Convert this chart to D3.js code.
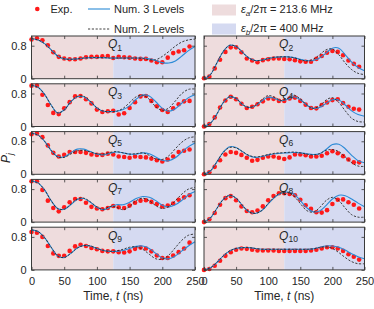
<!DOCTYPE html>
<html>
<head>
<meta charset="utf-8">
<script src="https://cdn.jsdelivr.net/npm/d3@7"></script>
<style>
  html, body { margin: 0; padding: 0; background: #fff; }
  svg { display: block; font-family: 'Liberation Sans', Arial, Helvetica, sans-serif; }
</style>
</head>
<body>
<svg id="chart" width="374" height="309"></svg>
<script>
// time grids (ns)
var tExp = [0, 8.33, 16.67, 25, 33.33, 41.67, 50, 58.33, 66.67, 75, 83.33, 91.67, 100, 108.33, 116.67,
  125, 133.33, 141.67, 150, 158.33, 166.67, 175, 183.33, 191.67, 200, 208.33, 216.67, 225, 233.33, 241.67];
var tSim = [0, 10, 20, 30, 40, 50, 60, 70, 80, 90, 100, 110, 120, 130, 140, 150, 160, 170, 180, 190, 200,
  210, 220, 230, 240, 250];

var q1Exp = [0.95, 0.98, 0.93, 0.81, 0.64, 0.53, 0.49, 0.47, 0.47, 0.49, 0.52, 0.53, 0.53, 0.54, 0.55,
  0.50, 0.53, 0.52, 0.51, 0.49, 0.48, 0.48, 0.44, 0.40, 0.40, 0.51, 0.62, 0.66, 0.69, 0.78];
var q1Three = [0.97, 0.94, 0.85, 0.70, 0.55, 0.48, 0.47, 0.48, 0.50, 0.51, 0.51, 0.51, 0.50, 0.50, 0.50,
  0.50, 0.50, 0.50, 0.48, 0.44, 0.39, 0.38, 0.43, 0.55, 0.68, 0.78];
var q1Two = [0.97, 0.94, 0.85, 0.70, 0.55, 0.48, 0.47, 0.48, 0.50, 0.51, 0.51, 0.51, 0.50, 0.50, 0.50,
  0.50, 0.50, 0.49, 0.46, 0.46, 0.54, 0.66, 0.79, 0.89, 0.94, 0.96];

var q2Exp = [0.01, 0.05, 0.25, 0.46, 0.65, 0.76, 0.76, 0.64, 0.49, 0.44, 0.40, 0.45, 0.47, 0.49, 0.49,
  0.48, 0.47, 0.45, 0.42, 0.41, 0.41, 0.48, 0.55, 0.63, 0.67, 0.65, 0.57, 0.44, 0.36, 0.29];
var q2Three = [0.0, 0.10, 0.38, 0.66, 0.81, 0.78, 0.64, 0.50, 0.44, 0.45, 0.49, 0.52, 0.53, 0.53, 0.51,
  0.47, 0.44, 0.44, 0.50, 0.62, 0.74, 0.74, 0.58, 0.40, 0.27, 0.19];
var q2Two = [0.0, 0.10, 0.38, 0.66, 0.81, 0.78, 0.64, 0.50, 0.44, 0.45, 0.49, 0.52, 0.53, 0.53, 0.51,
  0.46, 0.43, 0.47, 0.58, 0.70, 0.72, 0.58, 0.38, 0.22, 0.13, 0.10];

var q3Exp = [0.99, 0.99, 0.77, 0.52, 0.33, 0.30, 0.44, 0.59, 0.73, 0.74, 0.66, 0.56, 0.41, 0.35, 0.37,
  0.38, 0.29, 0.32, 0.45, 0.59, 0.73, 0.74, 0.62, 0.49, 0.40, 0.35, 0.44, 0.54, 0.61, 0.62];
var q3Three = [1.0, 0.95, 0.78, 0.52, 0.33, 0.40, 0.60, 0.72, 0.72, 0.60, 0.45, 0.37, 0.36, 0.37, 0.41,
  0.50, 0.66, 0.76, 0.74, 0.60, 0.44, 0.37, 0.43, 0.57, 0.70, 0.77];
var q3Two = [1.0, 0.95, 0.78, 0.52, 0.33, 0.40, 0.60, 0.73, 0.73, 0.61, 0.45, 0.37, 0.36, 0.37, 0.44,
  0.58, 0.72, 0.76, 0.66, 0.48, 0.39, 0.45, 0.62, 0.80, 0.90, 0.91];

var q4Exp = [0.0, 0.06, 0.22, 0.46, 0.63, 0.72, 0.66, 0.55, 0.45, 0.48, 0.54, 0.61, 0.68, 0.67, 0.62,
  0.62, 0.68, 0.70, 0.62, 0.53, 0.45, 0.44, 0.52, 0.58, 0.64, 0.66, 0.57, 0.48, 0.43, 0.41];
var q4Three = [0.0, 0.08, 0.30, 0.58, 0.72, 0.68, 0.53, 0.46, 0.50, 0.62, 0.71, 0.68, 0.62, 0.66, 0.72,
  0.65, 0.52, 0.44, 0.46, 0.56, 0.65, 0.64, 0.52, 0.38, 0.29, 0.25];
var q4Two = [0.0, 0.08, 0.30, 0.58, 0.72, 0.68, 0.53, 0.46, 0.51, 0.65, 0.75, 0.71, 0.63, 0.68, 0.76,
  0.67, 0.52, 0.44, 0.50, 0.64, 0.70, 0.58, 0.38, 0.20, 0.12, 0.11];

var q5Exp = [0.97, 0.99, 0.90, 0.70, 0.52, 0.43, 0.47, 0.54, 0.54, 0.54, 0.52, 0.48, 0.47, 0.47, 0.50,
  0.48, 0.43, 0.42, 0.40, 0.43, 0.42, 0.41, 0.38, 0.34, 0.31, 0.36, 0.43, 0.54, 0.57, 0.60];
var q5Three = [1.0, 0.95, 0.80, 0.58, 0.43, 0.42, 0.52, 0.61, 0.61, 0.55, 0.49, 0.47, 0.51, 0.54, 0.52,
  0.49, 0.49, 0.52, 0.50, 0.42, 0.34, 0.33, 0.40, 0.54, 0.67, 0.76];
var q5Two = [1.0, 0.95, 0.80, 0.58, 0.42, 0.41, 0.49, 0.57, 0.58, 0.54, 0.50, 0.49, 0.53, 0.55, 0.52,
  0.49, 0.50, 0.52, 0.46, 0.37, 0.36, 0.45, 0.62, 0.78, 0.88, 0.91];

var q6Exp = [0.0, 0.05, 0.18, 0.34, 0.48, 0.54, 0.52, 0.47, 0.40, 0.33, 0.35, 0.40, 0.43, 0.43, 0.40,
  0.37, 0.41, 0.48, 0.48, 0.46, 0.43, 0.43, 0.45, 0.51, 0.56, 0.51, 0.44, 0.36, 0.29, 0.29];
var q6Three = [0.0, 0.08, 0.30, 0.54, 0.67, 0.65, 0.55, 0.45, 0.41, 0.43, 0.47, 0.50, 0.51, 0.52, 0.53,
  0.52, 0.50, 0.48, 0.50, 0.60, 0.72, 0.73, 0.62, 0.46, 0.33, 0.28];
var q6Two = [0.0, 0.08, 0.30, 0.53, 0.65, 0.64, 0.55, 0.46, 0.42, 0.44, 0.48, 0.51, 0.52, 0.53, 0.54,
  0.52, 0.49, 0.47, 0.50, 0.58, 0.60, 0.55, 0.42, 0.28, 0.20, 0.19];

var q7Exp = [0.99, 0.99, 0.78, 0.52, 0.34, 0.26, 0.36, 0.48, 0.56, 0.56, 0.47, 0.37, 0.33, 0.31, 0.34,
  0.39, 0.36, 0.34, 0.40, 0.47, 0.52, 0.53, 0.49, 0.44, 0.38, 0.40, 0.45, 0.54, 0.60, 0.65];
var q7Three = [1.0, 0.95, 0.78, 0.52, 0.33, 0.31, 0.42, 0.55, 0.57, 0.48, 0.36, 0.30, 0.36, 0.42, 0.42,
  0.48, 0.57, 0.62, 0.60, 0.52, 0.41, 0.37, 0.42, 0.53, 0.66, 0.74];
var q7Two = [1.0, 0.95, 0.78, 0.52, 0.33, 0.31, 0.43, 0.56, 0.58, 0.49, 0.37, 0.31, 0.38, 0.36, 0.30,
  0.38, 0.52, 0.58, 0.52, 0.40, 0.33, 0.38, 0.52, 0.68, 0.80, 0.84];

var q8Exp = [0.0, 0.07, 0.22, 0.42, 0.58, 0.63, 0.53, 0.38, 0.27, 0.24, 0.28, 0.38, 0.53, 0.63, 0.70,
  0.70, 0.68, 0.65, 0.54, 0.41, 0.32, 0.24, 0.23, 0.29, 0.44, 0.54, 0.55, 0.48, 0.42, 0.33];
var q8Three = [0.0, 0.10, 0.33, 0.55, 0.65, 0.58, 0.40, 0.25, 0.21, 0.28, 0.44, 0.60, 0.70, 0.73, 0.68,
  0.52, 0.35, 0.25, 0.27, 0.40, 0.56, 0.65, 0.64, 0.56, 0.46, 0.37];
var q8Two = [0.0, 0.10, 0.33, 0.55, 0.65, 0.58, 0.40, 0.25, 0.21, 0.28, 0.45, 0.61, 0.71, 0.72, 0.63,
  0.45, 0.28, 0.24, 0.35, 0.52, 0.60, 0.52, 0.34, 0.18, 0.12, 0.12];

var q9Exp = [0.92, 0.90, 0.80, 0.58, 0.40, 0.34, 0.34, 0.46, 0.57, 0.61, 0.58, 0.53, 0.50, 0.46, 0.45,
  0.45, 0.43, 0.42, 0.45, 0.51, 0.54, 0.52, 0.45, 0.35, 0.29, 0.29, 0.35, 0.43, 0.52, 0.66];
var q9Three = [0.97, 0.93, 0.78, 0.55, 0.34, 0.30, 0.40, 0.53, 0.59, 0.58, 0.52, 0.47, 0.45, 0.45, 0.47,
  0.52, 0.57, 0.58, 0.52, 0.40, 0.29, 0.27, 0.34, 0.46, 0.58, 0.68];
var q9Two = [0.97, 0.93, 0.78, 0.55, 0.34, 0.30, 0.40, 0.53, 0.59, 0.58, 0.52, 0.47, 0.45, 0.46, 0.50,
  0.55, 0.56, 0.50, 0.38, 0.27, 0.26, 0.36, 0.54, 0.72, 0.84, 0.87];

var q10Exp = [0.0, 0.02, 0.10, 0.22, 0.34, 0.43, 0.49, 0.52, 0.51, 0.49, 0.47, 0.47, 0.47, 0.47, 0.46,
  0.46, 0.46, 0.46, 0.46, 0.46, 0.47, 0.49, 0.52, 0.55, 0.55, 0.52, 0.46, 0.38, 0.32, 0.25];
var q10Three = [0.0, 0.05, 0.18, 0.34, 0.46, 0.52, 0.54, 0.54, 0.52, 0.50, 0.50, 0.50, 0.50, 0.50, 0.50,
  0.50, 0.50, 0.51, 0.55, 0.58, 0.58, 0.55, 0.48, 0.39, 0.32, 0.27];
var q10Two = [0.0, 0.05, 0.18, 0.34, 0.46, 0.52, 0.54, 0.54, 0.52, 0.50, 0.50, 0.50, 0.50, 0.50, 0.50,
  0.50, 0.50, 0.51, 0.54, 0.56, 0.52, 0.42, 0.30, 0.20, 0.15, 0.15];

var xTicks = [0, 50, 100, 150, 200, 250];
var yTicks = [0, 0.8];
var switchTime = 125;   // drive changes from eps_a to eps_b

var panels = [
  {name: '1', exp: q1Exp, three: q1Three, two: q1Two},
  {name: '2', exp: q2Exp, three: q2Three, two: q2Two},
  {name: '3', exp: q3Exp, three: q3Three, two: q3Two},
  {name: '4', exp: q4Exp, three: q4Three, two: q4Two},
  {name: '5', exp: q5Exp, three: q5Three, two: q5Two},
  {name: '6', exp: q6Exp, three: q6Three, two: q6Two},
  {name: '7', exp: q7Exp, three: q7Three, two: q7Two},
  {name: '8', exp: q8Exp, three: q8Three, two: q8Two},
  {name: '9', exp: q9Exp, three: q9Three, two: q9Two},
  {name: '10', exp: q10Exp, three: q10Three, two: q10Two}
];

var pink = '#eedcdd', lilac = '#d5daf1', red = '#ff1a1a', blue = '#2b8ad6', ink = '#262626';
var svg = d3.select('#chart');

var colX = [[31.5, 195], [204, 364.5]];
var top0 = 36, pitch = 47.8, panelH = 42.7;

var line = function (x, y) {
  return d3.line()
    .x(function (d) { return x(d[0]); })
    .y(function (d) { return y(d[1]); })
    .curve(d3.curveCatmullRom.alpha(0.5));
};

panels.forEach(function (p, i) {
  var col = i % 2, row = Math.floor(i / 2);
  var top = top0 + row * pitch;
  var x = d3.scaleLinear().domain([0, 250]).range(colX[col]);
  var y = d3.scaleLinear().domain([0, 1.035]).range([top + panelH, top]);
  var g = svg.append('g').attr('class', 'panel');

  g.append('rect')
    .attr('x', x(0)).attr('y', top)
    .attr('width', x(switchTime) - x(0)).attr('height', panelH)
    .attr('fill', pink);
  g.append('rect')
    .attr('x', x(switchTime)).attr('y', top)
    .attr('width', x(250) - x(switchTime)).attr('height', panelH)
    .attr('fill', lilac);

  g.selectAll('.dot')
    .data(d3.zip(tExp, p.exp))
    .enter()
    .append('circle')
    .attr('class', 'dot')
    .attr('cx', function (d) { return x(d[0]); })
    .attr('cy', function (d) { return y(d[1]); })
    .attr('r', 2.3)
    .attr('fill', red);

  g.append('path')
    .attr('d', line(x, y)(d3.zip(tSim, p.three)))
    .attr('fill', 'none')
    .attr('stroke', blue)
    .attr('stroke-width', 1.1);

  g.append('path')
    .attr('d', line(x, y)(d3.zip(tSim, p.two)))
    .attr('fill', 'none')
    .attr('stroke', '#2a2a2a')
    .attr('stroke-width', 0.9)
    .attr('stroke-dasharray', '2.2,1.6');

  // inward ticks on all four sides, labels only on outer edges
  var last = row === 4;
  g.append('g')
    .attr('transform', 'translate(0,' + (top + panelH) + ')')
    .call(d3.axisBottom(x).tickValues(xTicks).tickSize(-3).tickSizeOuter(0).tickPadding(7)
      .tickFormat(last ? d3.format('d') : ''));
  g.append('g')
    .attr('transform', 'translate(0,' + top + ')')
    .call(d3.axisTop(x).tickValues(xTicks).tickSize(-3).tickSizeOuter(0).tickFormat(''));
  g.append('g')
    .attr('transform', 'translate(' + x(0) + ',0)')
    .call(d3.axisLeft(y).tickValues(yTicks).tickSize(-3).tickSizeOuter(0).tickPadding(5)
      .tickFormat(col === 0 ? function (d) { return d === 0 ? '0' : d3.format('.1f')(d); } : ''));
  g.append('g')
    .attr('transform', 'translate(' + x(250) + ',0)')
    .call(d3.axisRight(y).tickValues(yTicks).tickSize(-3).tickSizeOuter(0).tickFormat(''));

  g.selectAll('.domain').remove();
  g.selectAll('.tick line').attr('stroke', '#333').attr('stroke-width', 0.8);
  g.selectAll('.tick text').attr('fill', ink).style('font-size', '11px')
    .style('font-family', "'Liberation Sans', Arial, sans-serif");

  g.append('rect')
    .attr('x', x(0)).attr('y', top)
    .attr('width', x(250) - x(0)).attr('height', panelH)
    .attr('fill', 'none')
    .attr('stroke', '#3a3a3a')
    .attr('stroke-width', 1);

  var label = g.append('text')
    .attr('x', x(117)).attr('y', top + 12.3)
    .attr('fill', ink)
    .style('font-size', '12px');
  label.append('tspan').style('font-style', 'italic').text('Q');
  label.append('tspan').attr('dy', 2.5).style('font-size', '8.5px').text(p.name);

  if (last) {
    var xl = g.append('text')
      .attr('x', (colX[col][0] + colX[col][1]) / 2)
      .attr('y', 300)
      .attr('text-anchor', 'middle')
      .attr('fill', ink)
      .style('font-size', '12px');
    xl.append('tspan').text('Time, ');
    xl.append('tspan').style('font-style', 'italic').text('t');
    xl.append('tspan').text(' (ns)');
  }
});

// y label
var yl = svg.append('text')
  .attr('transform', 'translate(10,158) rotate(-90)')
  .attr('text-anchor', 'middle')
  .attr('fill', ink)
  .style('font-size', '12px');
yl.append('tspan').style('font-style', 'italic').text('P');
yl.append('tspan').attr('dy', 2.5).style('font-size', '8.5px').style('font-style', 'italic').text('j');

// legend
var lg = svg.append('g').attr('class', 'legend').style('font-size', '11px').attr('fill', ink);
lg.append('circle').attr('cx', 37.3).attr('cy', 9).attr('r', 2.3).attr('fill', red);
lg.append('text').attr('x', 50.5).attr('y', 13).text('Exp.');
lg.append('line').attr('x1', 88).attr('x2', 110).attr('y1', 9).attr('y2', 9)
  .attr('stroke', blue).attr('stroke-width', 1.1);
lg.append('text').attr('x', 114).attr('y', 13).text('Num. 3 Levels');
lg.append('line').attr('x1', 88).attr('x2', 110).attr('y1', 29).attr('y2', 29)
  .attr('stroke', '#2a2a2a').attr('stroke-width', 0.9).attr('stroke-dasharray', '2.2,1.6');
lg.append('text').attr('x', 114).attr('y', 33).text('Num. 2 Levels');

[{fill: pink, sub: 'a', val: '213.6 MHz', y: 4.5}, {fill: lilac, sub: 'b', val: '400 MHz', y: 23.5}]
  .forEach(function (d) {
    lg.append('rect').attr('x', 212).attr('y', d.y).attr('width', 24).attr('height', 11).attr('fill', d.fill);
    var t = lg.append('text').attr('x', 241).attr('y', d.y + 8.5);
    t.append('tspan').style('font-style', 'italic').text('\u03b5');
    t.append('tspan').attr('dy', 2.5).style('font-size', '8px').style('font-style', 'italic').text(d.sub);
    t.append('tspan').attr('dy', -2.5).text('/2\u03c0 = ' + d.val);
  });
</script>
</body>
</html>
